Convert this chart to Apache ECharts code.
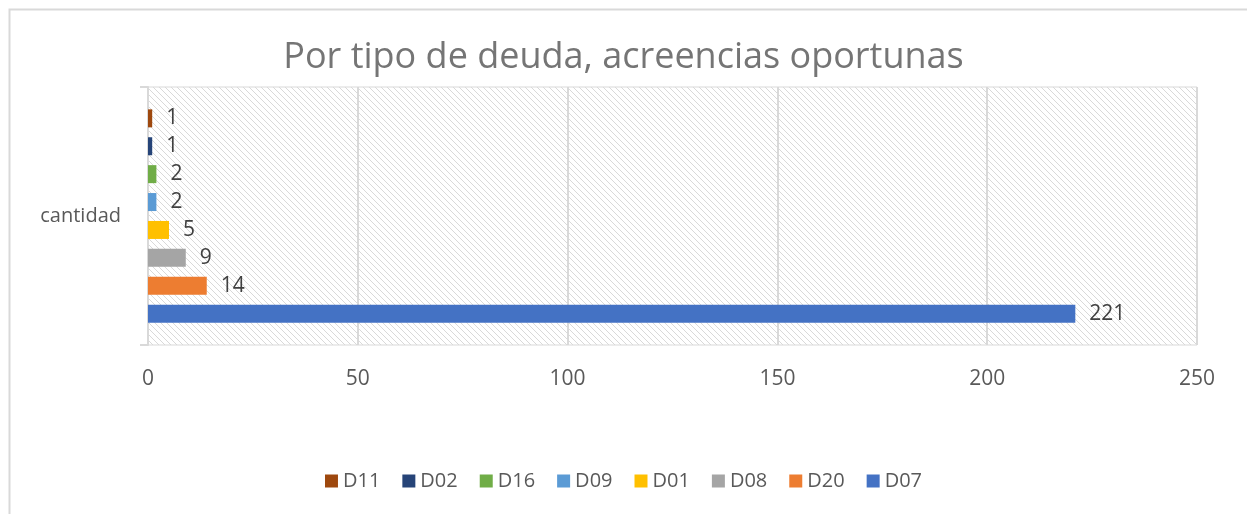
<!DOCTYPE html>
<html>
<head>
<meta charset="utf-8">
<script src="https://cdn.jsdelivr.net/npm/echarts@6/dist/echarts.min.js"></script>
<style>
    html, body { margin: 0; padding: 0; background: #fff; }
    #main { width: 1247px; height: 514px; }
</style>
</head>
<body>
<div id="main"></div>
<script>
// 数据
const categories = ['cantidad'];
const seriesNames = ['D11', 'D02', 'D16', 'D09', 'D01', 'D08', 'D20', 'D07']; // 从上到下
const seriesValues = [1, 1, 2, 2, 5, 9, 14, 221];
const seriesColors = ['#9E480E', '#264478', '#70AD47', '#5B9BD5', '#FFC000', '#A5A5A5', '#ED7D31', '#4472C4'];
const legendOrder = ['D11', 'D02', 'D16', 'D09', 'D01', 'D08', 'D20', 'D07'];
const xTicks = { min: 0, max: 250, interval: 50 };

const FONT = '"Open Sans", sans-serif';

// 斜线底纹
function hatch() {
    let c = document.createElement('canvas');
    c.width = 6; c.height = 6;
    let ctx = c.getContext('2d');
    ctx.fillStyle = '#ffffff';
    ctx.fillRect(0, 0, 6, 6);
    ctx.strokeStyle = '#d9d9d9';
    ctx.lineWidth = 1;
    ctx.beginPath();
    ctx.moveTo(-1, -1); ctx.lineTo(7, 7);
    ctx.moveTo(-4, 2); ctx.lineTo(4, 10);
    ctx.moveTo(2, -4); ctx.lineTo(10, 4);
    ctx.stroke();
    return c;
}

let myChart = echarts.init(document.getElementById('main'));
let option = {
    backgroundColor: '#fff',
    animation: false,
    title: {
        text: 'Por tipo de deuda, acreencias oportunas',
        left: 'center',
        top: 35,
        textStyle: { fontFamily: FONT, fontSize: 36, fontWeight: 'normal', color: '#757575' }
    },
    graphic: [{
        type: 'rect',
        shape: { x: 9.5, y: 9.5, width: 1300, height: 600 },
        style: { fill: 'none', stroke: '#d9d9d9', lineWidth: 2 },
        z: -1
    }],
    legend: {
        data: legendOrder,
        bottom: 18,
        left: 'center',
        itemWidth: 13,
        itemHeight: 13,
        itemGap: 22,
        itemStyle: { borderWidth: 0 },
        icon: 'rect',
        textStyle: { fontFamily: FONT, fontSize: 20, color: '#595959' }
    },
    grid: {
        left: 148,
        right: 50,
        top: 87,
        height: 258,
        show: true,
        backgroundColor: { image: hatch(), repeat: 'repeat' },
        borderColor: '#d9d9d9',
        borderWidth: 1
    },
    xAxis: {
        type: 'value',
        min: xTicks.min,
        max: xTicks.max,
        interval: xTicks.interval,
        axisLine: { show: false },
        axisTick: { show: false },
        axisLabel: { fontFamily: FONT, fontSize: 21, color: '#595959', margin: 24 },
        splitLine: { lineStyle: { color: '#d9d9d9', width: 2 } }
    },
    yAxis: {
        type: 'category',
        data: categories,
        axisLine: { show: true, lineStyle: { color: '#d9d9d9', width: 2 } },
        axisTick: { show: true, length: 8, lineStyle: { color: '#d9d9d9', width: 2 } },
        axisLabel: { fontFamily: FONT, fontSize: 20, color: '#595959', margin: 27 }
    },
    series: seriesNames.map((name, i) => ({
        name: name,
        type: 'bar',
        data: [seriesValues[i]],
        barWidth: 18,
        barGap: '55%',
        itemStyle: { color: seriesColors[i] },
        label: {
            show: true,
            position: 'right',
            distance: 14,
            fontFamily: FONT,
            fontSize: 21,
            color: '#404040'
        }
    }))
};
myChart.setOption(option);
</script>
</body>
</html>
